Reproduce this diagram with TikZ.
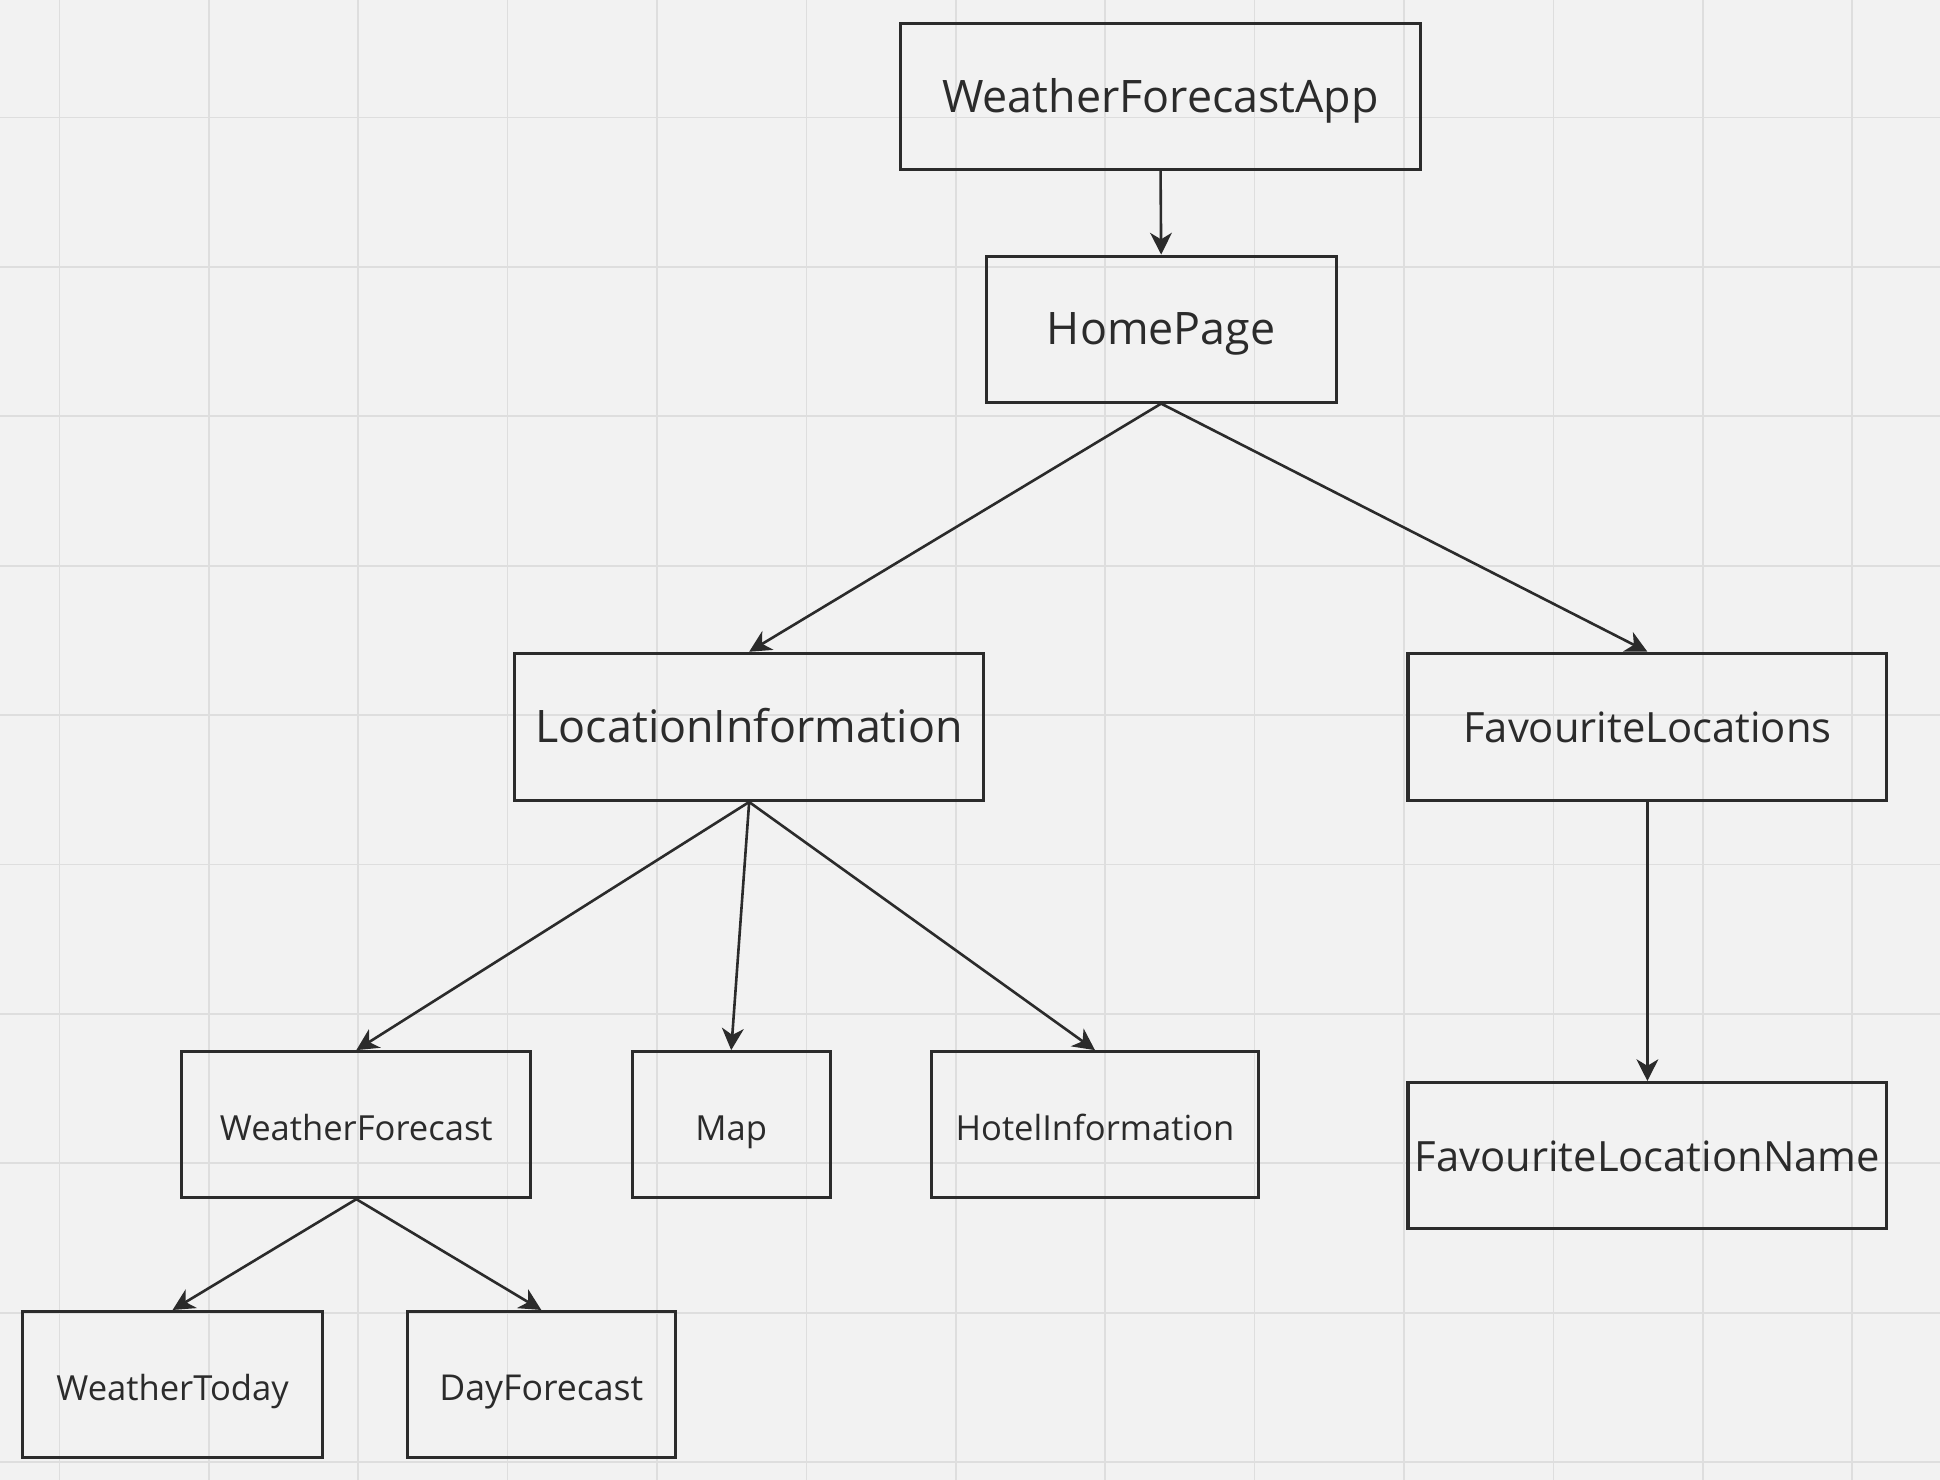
\documentclass[tikz,border=0pt]{standalone}
\usepackage{fontspec}
\setmainfont{Open Sans}
\usetikzlibrary{arrows.meta}
\definecolor{bgcol}{HTML}{F2F2F2}
\definecolor{gridcol}{HTML}{DEDEDE}
\definecolor{inkcol}{HTML}{2B2B2B}
\begin{document}
\begin{tikzpicture}[
    box/.style={draw=inkcol, line width=0.7pt, text=inkcol, inner sep=0pt, minimum height=1.18cm,
      text height=0.72em, text depth=0pt},
    big/.style={font=\fontsize{10.3}{12}\selectfont},
    mid/.style={font=\fontsize{9.6}{11}\selectfont},
    small/.style={font=\fontsize{7.95}{10}\selectfont},
    link/.style={draw=inkcol, line width=0.6pt, -{Stealth[length=5pt, width=5pt, inset=1.5pt]}}
  ]
  \fill[bgcol] (0,0) rectangle (15.68,-11.96);
  \useasboundingbox (0,0) rectangle (15.68,-11.96);
  % grid
  \foreach \i in {0,...,12}
    \draw[gridcol, line width=0.4pt] ({0.48+1.2075*\i},0) -- ({0.48+1.2075*\i},-11.96);
  \foreach \j in {0,...,9}
    \draw[gridcol, line width=0.4pt] (0,{-0.95-1.2075*\j}) -- (15.68,{-0.95-1.2075*\j});
  % boxes
  \node[box, big, minimum width=4.20cm] (app) at (9.38,-0.78) {WeatherForecastApp};
  \node[box, big, minimum width=2.83cm] (home) at (9.385,-2.66) {HomePage};
  \node[box, big, minimum width=3.79cm, minimum height=1.19cm] (loc) at (6.055,-5.875) {LocationInformation};
  \node[box, mid, minimum width=3.87cm, minimum height=1.19cm] (fav) at (13.315,-5.875) {FavouriteLocations};
  \node[box, small, minimum width=2.82cm] (wf) at (2.88,-9.09) {WeatherForecast};
  \node[box, small, minimum width=1.60cm] (map) at (5.91,-9.09) {Map};
  \node[box, small, minimum width=2.64cm] (hotel) at (8.85,-9.09) {HotelInformation};
  \node[box, mid, minimum width=3.87cm] (favname) at (13.315,-9.34) {FavouriteLocationName};
  \node[box, small, minimum width=2.43cm] (today) at (1.395,-11.19) {WeatherToday};
  \node[box, small, minimum width=2.17cm, font=\fontsize{8.2}{10}\selectfont] (day) at (4.375,-11.19) {DayForecast};
  % links
  \draw[link] (app.south) -- (home.north);
  \draw[link] (home.south) -- (loc.north);
  \draw[link] (home.south) -- (fav.north);
  \draw[link] (fav.south) -- (favname.north);
  \draw[link] (loc.south) -- (wf.north);
  \draw[link] (loc.south) -- (map.north);
  \draw[link] (loc.south) -- (hotel.north);
  \draw[link] (wf.south) -- (today.north);
  \draw[link] (wf.south) -- (day.north);
\end{tikzpicture}
\end{document}
